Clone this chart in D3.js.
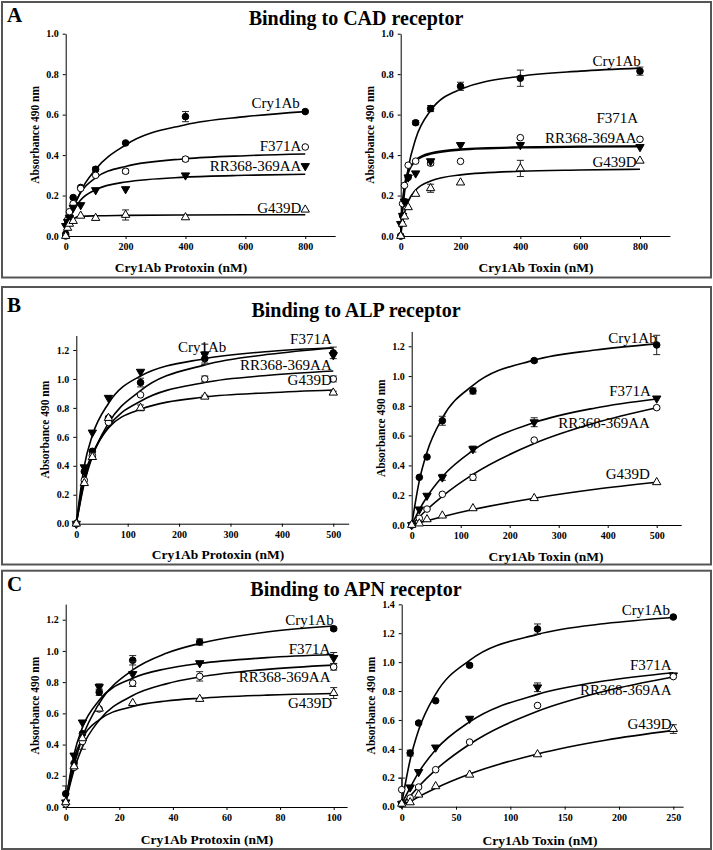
<!DOCTYPE html>
<html>
<head>
<meta charset="utf-8">
<script src="https://cdn.jsdelivr.net/npm/d3@7"></script>
<style>
body { margin: 0; background: #fff; }
svg { font-family: "Liberation Serif", "Times New Roman", serif; }
</style>
</head>
<body>
<svg width="713" height="850"></svg>
<script>
var names = ["Cry1Ab", "F371A", "RR368-369AA", "G439D"];

// ---- A: CAD receptor, protoxin
var cadProConc = [0, 6.25, 12.5, 25, 50, 100, 200, 400, 800];
var cadProCry1Ab = [0.01, 0.06, 0.09, 0.19, 0.24, 0.33, 0.46, 0.59, 0.615];
var cadProF371A = [0.0, 0.08, 0.12, 0.16, 0.235, 0.30, 0.32, 0.38, 0.44];
var cadProRR = [0.05, 0.07, 0.09, 0.14, 0.153, 0.227, 0.232, 0.30, 0.346];
var cadProG439D = [0.0, 0.04, 0.06, 0.074, 0.10, 0.089, 0.104, 0.092, 0.13];
var cadProErr = [[0,0,0,0,0,0.01,0,0.025,0], [0,0,0,0,0,0,0.01,0.01,0], [0,0,0,0,0,0,0,0,0], [0,0,0,0,0,0,0.025,0,0]];
var cadProCurveX = [0, 6.25, 12.5, 25, 50, 100, 200, 400, 600, 800];
var cadProCurves = [
  [0, 0.04, 0.07, 0.13, 0.22, 0.33, 0.45, 0.55, 0.59, 0.615],
  [0, 0.048, 0.086, 0.143, 0.215, 0.287, 0.344, 0.382, 0.397, 0.405],
  [0, 0.042, 0.076, 0.123, 0.178, 0.229, 0.267, 0.291, 0.30, 0.305],
  [0, 0.05, 0.07, 0.085, 0.097, 0.10, 0.102, 0.104, 0.105, 0.105]
];

// ---- A: CAD receptor, toxin
var cadToxConc = [0, 6.25, 12.5, 25, 50, 100, 200, 400, 800];
var cadToxCry1Ab = [0.0, 0.10, 0.17, 0.29, 0.56, 0.63, 0.74, 0.78, 0.815];
var cadToxF371A = [0.0, 0.16, 0.25, 0.35, 0.37, 0.36, 0.369, 0.486, 0.478];
var cadToxRR = [0.06, 0.10, 0.17, 0.29, 0.31, 0.37, 0.45, 0.45, 0.44];
var cadToxG439D = [0.0, 0.06, 0.096, 0.142, 0.208, 0.236, 0.264, 0.334, 0.372];
var cadToxErr = [[0,0,0,0,0.01,0.015,0.02,0.04,0.02], [0,0,0,0,0,0.01,0,0,0], [0,0,0,0,0,0,0,0.01,0], [0,0,0,0,0,0.02,0,0.04,0]];
var cadToxCurveX = [0, 6.25, 12.5, 25, 50, 100, 200, 400, 600, 800];
var cadToxCurves = [
  [0, 0.12, 0.21, 0.335, 0.48, 0.62, 0.725, 0.79, 0.815, 0.83],
  [0, 0.17, 0.25, 0.32, 0.375, 0.41, 0.43, 0.44, 0.443, 0.445],
  [0, 0.15, 0.23, 0.31, 0.37, 0.405, 0.425, 0.436, 0.44, 0.442],
  [0, 0.07, 0.113, 0.17, 0.227, 0.272, 0.302, 0.32, 0.326, 0.33]
];

// ---- B: ALP receptor, protoxin
var alpProConc = [0, 15.6, 31.25, 62.5, 125, 250, 500];
var alpProCry1Ab = [0, 0.36, 0.50, 0.73, 0.975, 1.14, 1.18];
var alpProF371A = [0, 0.39, 0.63, 0.87, 1.05, 1.17, 1.165];
var alpProRR = [0, 0.30, 0.47, 0.70, 0.89, 1.00, 1.00];
var alpProG439D = [0, 0.28, 0.46, 0.73, 0.80, 0.877, 0.905];
var alpProErr = [[0,0,0,0,0.03,0.03,0.04], [0,0,0,0,0,0.07,0], [0,0,0,0,0,0.02,0.02], [0,0,0,0,0.02,0.01,0.01]];
var alpProCurveX = [0, 15.6, 31.25, 62.5, 125, 250, 375, 500];
var alpProCurves = [
  [0, 0.28, 0.465, 0.694, 0.919, 1.097, 1.17, 1.214],
  [0, 0.40, 0.61, 0.83, 1.02, 1.14, 1.19, 1.215],
  [0, 0.296, 0.47, 0.669, 0.846, 0.975, 1.025, 1.055],
  [0, 0.335, 0.48, 0.662, 0.79, 0.875, 0.905, 0.924]
];

// ---- B: ALP receptor, toxin
var alpToxConc = [0, 15.6, 31.25, 62.5, 125, 250, 500];
var alpToxCry1Ab = [0, 0.32, 0.457, 0.70, 0.90, 1.104, 1.209];
var alpToxF371A = [0, 0.105, 0.197, 0.32, 0.51, 0.69, 0.85];
var alpToxRR = [0, 0.045, 0.107, 0.206, 0.32, 0.57, 0.788];
var alpToxG439D = [0, 0.01, 0.038, 0.063, 0.112, 0.18, 0.287];
var alpToxErr = [[0,0,0,0.03,0.02,0.01,0.065], [0,0,0,0.02,0.02,0.03,0], [0,0,0,0,0.02,0,0.01], [0,0,0,0,0,0,0]];
var alpToxCurveX = [0, 15.6, 31.25, 62.5, 125, 250, 375, 500];
var alpToxCurves = [
  [0, 0.298, 0.489, 0.718, 0.9375, 1.107, 1.175, 1.216],
  [0, 0.103, 0.19, 0.324, 0.50, 0.6875, 0.786, 0.846],
  [0, 0.054, 0.104, 0.193, 0.34, 0.547, 0.686, 0.787],
  [0, 0.015, 0.029, 0.056, 0.104, 0.18, 0.24, 0.287]
];

// ---- C: APN receptor, protoxin
var apnProConc = [0, 3.125, 6.25, 12.5, 25, 50, 100];
var apnProCry1Ab = [0.085, 0.28, 0.47, 0.735, 0.94, 1.057, 1.142];
var apnProF371A = [0.03, 0.33, 0.542, 0.769, 0.852, 0.922, 0.955];
var apnProRR = [0.02, 0.254, 0.42, 0.628, 0.794, 0.837, 0.897];
var apnProG439D = [0.03, 0.26, 0.44, 0.63, 0.666, 0.692, 0.73];
var apnProErr = [[0.05,0,0,0.02,0.03,0.02,0.01], [0,0,0,0.02,0.08,0,0.035], [0,0,0.05,0,0,0.03,0.02], [0,0,0,0,0,0,0.035]];
var apnProCurveX = [0, 3.125, 6.25, 12.5, 25, 37.5, 50, 75, 100];
var apnProCurves = [
  [0.03, 0.269, 0.446, 0.663, 0.878, 0.985, 1.048, 1.121, 1.16],
  [0.03, 0.338, 0.51, 0.684, 0.825, 0.886, 0.92, 0.957, 0.977],
  [0.03, 0.238, 0.385, 0.556, 0.714, 0.789, 0.833, 0.882, 0.909],
  [0.03, 0.31, 0.442, 0.559, 0.644, 0.679, 0.697, 0.717, 0.727]
];

// ---- C: APN receptor, toxin
var apnToxConc = [0, 7.8, 15.6, 31.25, 62.5, 125, 250];
var apnToxCry1Ab = [0.02, 0.371, 0.579, 0.733, 0.978, 1.229, 1.312];
var apnToxF371A = [0.02, 0.134, 0.24, 0.41, 0.609, 0.826, 0.909];
var apnToxRR = [0.118, 0.06, 0.136, 0.256, 0.447, 0.70, 0.90];
var apnToxG439D = [0.02, 0.03, 0.083, 0.141, 0.221, 0.362, 0.537];
var apnToxErr = [[0,0.02,0.01,0,0.01,0.035,0], [0,0,0,0,0,0.03,0], [0.08,0,0,0,0,0,0], [0,0,0,0,0,0,0.03]];
var apnToxCurveX = [0, 7.8, 15.6, 31.25, 62.5, 125, 187.5, 250];
var apnToxCurves = [
  [0.02, 0.325, 0.53, 0.778, 1.012, 1.192, 1.267, 1.309],
  [0.02, 0.132, 0.237, 0.394, 0.587, 0.777, 0.871, 0.927],
  [0.02, 0.074, 0.14, 0.255, 0.432, 0.66, 0.80, 0.897],
  [0.02, 0.035, 0.069, 0.128, 0.226, 0.365, 0.46, 0.528]
];

// label anchors (right end, baseline) in data units
var cadProLabels = [[782, 0.631], [787, 0.422], [787, 0.323], [787, 0.112]];
var cadToxLabels = [[803, 0.84], [794, 0.56], [789, 0.458], [789, 0.339]];
var alpProLabels = [[292, 1.188], [497, 1.239], [497, 1.062], [497, 0.958]];
var alpToxLabels = [[500, 1.22], [488, 0.866], [486, 0.654], [486, 0.309]];
var apnProLabels = [[100, 1.168], [98.8, 0.982], [98.8, 0.799], [99.4, 0.634]];
var apnToxLabels = [[247, 1.324], [248.5, 0.948], [248.5, 0.775], [248.5, 0.54]];

var markersA = ["dot", "ring", "down", "up"];
var markersBC = ["dot", "down", "ring", "up"];

var frames = [
  {letter: "A", title: "Binding to CAD receptor", top: 2, bottom: 277.5, letterY: 21.7, titleY: 25},
  {letter: "B", title: "Binding to ALP receptor", top: 287, bottom: 564.5, letterY: 311.7, titleY: 316.7},
  {letter: "C", title: "Binding to APN receptor", top: 570.7, bottom: 849, letterY: 591.3, titleY: 596}
];

var plots = [
  {conc: cadProConc, vals: [cadProCry1Ab, cadProF371A, cadProRR, cadProG439D], err: cadProErr, cx: cadProCurveX, cy: cadProCurves,
   labels: cadProLabels, markers: markersA, xMax: 900, xr: [65.7, 335.2], xTicks: [0,200,400,600,800],
   yMax: 1.0, yr: [236, 33.7], yTicks: [0,0.2,0.4,0.6,0.8,1.0], xTitle: "Cry1Ab Protoxin (nM)", xTitleX: 181, xTitleY: 272},
  {conc: cadToxConc, vals: [cadToxCry1Ab, cadToxF371A, cadToxRR, cadToxG439D], err: cadToxErr, cx: cadToxCurveX, cy: cadToxCurves,
   labels: cadToxLabels, markers: markersA, xMax: 900, xr: [400.7, 669.9], xTicks: [0,200,400,600,800],
   yMax: 1.0, yr: [236, 33.7], yTicks: [0,0.2,0.4,0.6,0.8,1.0], xTitle: "Cry1Ab Toxin (nM)", xTitleX: 536, xTitleY: 272},
  {conc: alpProConc, vals: [alpProCry1Ab, alpProF371A, alpProRR, alpProG439D], err: alpProErr, cx: alpProCurveX, cy: alpProCurves,
   labels: alpProLabels, markers: markersBC, xMax: 530, xr: [76.3, 348.7], xTicks: [0,100,200,300,400,500],
   yMax: 1.3, yr: [523.7, 335.5], yTicks: [0,0.2,0.4,0.6,0.8,1.0,1.2], xTitle: "Cry1Ab Protoxin (nM)", xTitleX: 218, xTitleY: 559},
  {conc: alpToxConc, vals: [alpToxCry1Ab, alpToxF371A, alpToxRR, alpToxG439D], err: alpToxErr, cx: alpToxCurveX, cy: alpToxCurves,
   labels: alpToxLabels, markers: markersBC, xMax: 550, xr: [411.7, 681.2], xTicks: [0,100,200,300,400,500],
   yMax: 1.3, yr: [525, 331.4], yTicks: [0,0.2,0.4,0.6,0.8,1.0,1.2], xTitle: "Cry1Ab Toxin (nM)", xTitleX: 546, xTitleY: 561},
  {conc: apnProConc, vals: [apnProCry1Ab, apnProF371A, apnProRR, apnProG439D], err: apnProErr, cx: apnProCurveX, cy: apnProCurves,
   labels: apnProLabels, markers: markersBC, xMax: 105, xr: [65.7, 347.1], xTicks: [0,20,40,60,80,100],
   yMax: 1.3, yr: [807, 604.1], yTicks: [0,0.2,0.4,0.6,0.8,1.0,1.2], xTitle: "Cry1Ab Protoxin (nM)", xTitleX: 207, xTitleY: 844},
  {conc: apnToxConc, vals: [apnToxCry1Ab, apnToxF371A, apnToxRR, apnToxG439D], err: apnToxErr, cx: apnToxCurveX, cy: apnToxCurves,
   labels: apnToxLabels, markers: markersBC, xMax: 259, xr: [401.7, 683.1], xTicks: [0,50,100,150,200,250],
   yMax: 1.4, yr: [806.7, 604.3], yTicks: [0,0.2,0.4,0.6,0.8,1.0,1.2,1.4], xTitle: "Cry1Ab Toxin (nM)", xTitleX: 540, xTitleY: 845}
];

var svg = d3.select("svg");

frames.forEach(function(f){
  svg.append("rect")
     .attr("x", 2).attr("y", f.top)
     .attr("width", 709).attr("height", f.bottom - f.top)
     .attr("fill", "none").attr("stroke", "#555").attr("stroke-width", 2);
  svg.append("text").attr("x", 7).attr("y", f.letterY)
     .attr("font-size", 21).attr("font-weight", "bold").text(f.letter);
  svg.append("text").attr("x", 356).attr("y", f.titleY)
     .attr("text-anchor", "middle")
     .attr("font-size", 20).attr("font-weight", "bold").text(f.title);
});

var drawMarker = function(sel, kind){
  if (kind == "dot" || kind == "ring") {
    sel.append("circle").attr("r", 3.3)
       .attr("fill", kind == "dot" ? "#000" : "#fff")
       .attr("stroke", "#000").attr("stroke-width", 1);
  } else {
    sel.append("path")
       .attr("d", d3.symbol(d3.symbolTriangle, 30)())
       .attr("transform", kind == "down" ? "rotate(180)" : null)
       .attr("fill", kind == "down" ? "#000" : "#fff")
       .attr("stroke", "#000").attr("stroke-width", 1);
  }
};

plots.forEach(function(p){
  var xScale = d3.scaleLinear().domain([0, p.xMax]).range(p.xr);
  var yScale = d3.scaleLinear().domain([0, p.yMax]).range(p.yr);
  var g = svg.append("g");

  var xAxis = d3.axisBottom(xScale).tickValues(p.xTicks).tickSize(3).tickSizeOuter(0).tickPadding(4)
                .tickFormat(d3.format("d"));
  var yAxis = d3.axisLeft(yScale).tickValues(p.yTicks).tickSize(3).tickSizeOuter(0).tickPadding(4)
                .tickFormat(d3.format(".1f"));

  g.append("g").attr("transform", "translate(0," + p.yr[0] + ")").call(xAxis);
  g.append("g").attr("transform", "translate(" + p.xr[0] + ",0)").call(yAxis);
  g.selectAll(".tick text")
   .attr("font-family", "Liberation Serif, serif")
   .attr("font-size", 10).attr("font-weight", "bold").attr("fill", "#000");
  g.selectAll(".domain, .tick line").attr("stroke", "#000");

  g.append("text")
   .attr("x", p.xTitleX).attr("y", p.xTitleY)
   .attr("text-anchor", "middle")
   .attr("font-size", 13.5).attr("font-weight", "bold")
   .text(p.xTitle);
  g.append("text")
   .attr("transform", "translate(" + (p.xr[0] - 31) + "," + ((p.yr[0] + p.yr[1]) / 2) + ") rotate(-90)")
   .attr("dy", "0.35em")
   .attr("text-anchor", "middle")
   .attr("font-size", 11.5).attr("font-weight", "bold")
   .text("Absorbance 490 nm");

  var lineGenerator = d3.line()
    .x(function(d){ return xScale(d[0]); })
    .y(function(d){ return yScale(d[1]); })
    .curve(d3.curveMonotoneX);

  p.cy.forEach(function(curve){
    var pts = curve.map(function(v, i){ return [p.cx[i], v]; });
    g.append("path").datum(pts)
     .attr("d", lineGenerator)
     .attr("fill", "none").attr("stroke", "#000").attr("stroke-width", 1.6);
  });

  p.vals.forEach(function(vals, s){
    vals.forEach(function(v, i){
      var e = p.err[s][i];
      var cx = xScale(p.conc[i]);
      if (e > 0) {
        var eb = g.append("g").attr("stroke", "#222").attr("stroke-width", 1);
        eb.append("line").attr("x1", cx).attr("x2", cx).attr("y1", yScale(v - e)).attr("y2", yScale(v + e));
        eb.append("line").attr("x1", cx - 3.5).attr("x2", cx + 3.5).attr("y1", yScale(v + e)).attr("y2", yScale(v + e));
        eb.append("line").attr("x1", cx - 3.5).attr("x2", cx + 3.5).attr("y1", yScale(v - e)).attr("y2", yScale(v - e));
      }
      var m = g.append("g").attr("transform", "translate(" + cx + "," + yScale(v) + ")");
      drawMarker(m, p.markers[s]);
    });
  });

  p.labels.forEach(function(l, s){
    g.append("text")
     .attr("x", xScale(l[0])).attr("y", yScale(l[1]))
     .attr("text-anchor", "end")
     .attr("font-size", 15)
     .text(names[s]);
  });
});
</script>
</body>
</html>
